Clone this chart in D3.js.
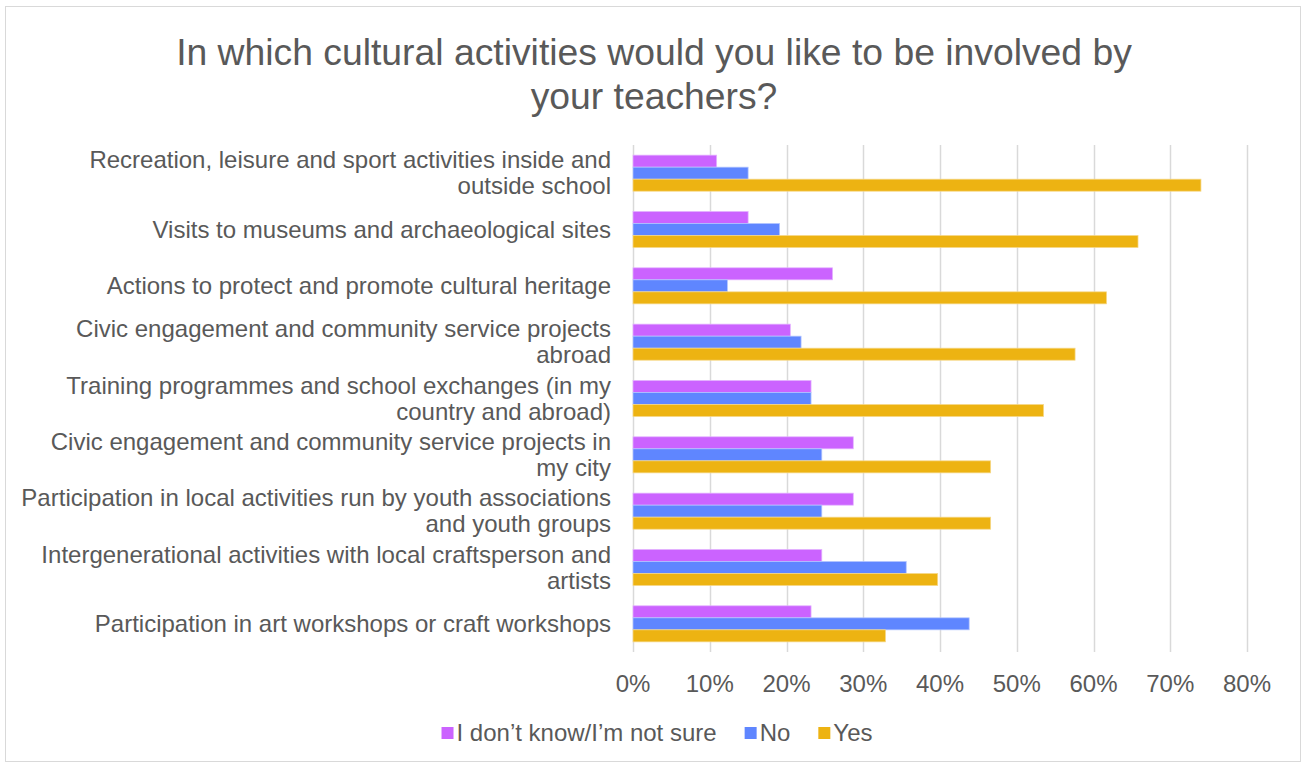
<!DOCTYPE html>
<html>
<head>
<meta charset="utf-8">
<script src="https://cdn.jsdelivr.net/npm/d3@7"></script>
<style>
  html, body { margin: 0; padding: 0; background: #ffffff; }
  svg { display: block; font-family: "Liberation Sans", Arial, sans-serif; }
</style>
</head>
<body>
<svg id="chart" width="1302" height="767"></svg>
<script>
// Survey answers, share of respondents per activity
const categories = [
  "Recreation, leisure and sport activities inside and\noutside school",
  "Visits to museums and archaeological sites",
  "Actions to protect and promote cultural heritage",
  "Civic engagement and community service projects\nabroad",
  "Training programmes and school exchanges (in my\ncountry and abroad)",
  "Civic engagement and community service projects in\nmy city",
  "Participation in local activities run by youth associations\nand youth groups",
  "Intergenerational activities with local craftsperson and\nartists",
  "Participation in art workshops or craft workshops"
];
const seriesNames = ["I don\u2019t know/I\u2019m not sure", "No", "Yes"];
const notSure = [0.109, 0.150, 0.260, 0.205, 0.232, 0.287, 0.287, 0.246, 0.232];
const no      = [0.150, 0.191, 0.123, 0.219, 0.232, 0.246, 0.246, 0.356, 0.438];
const yes     = [0.740, 0.658, 0.617, 0.576, 0.535, 0.466, 0.466, 0.397, 0.329];
const xTicks  = [0, 0.1, 0.2, 0.3, 0.4, 0.5, 0.6, 0.7, 0.8];
const colors  = ["#CB63FF", "#5F86FF", "#EDB312"];
const strokes = ["#E3B3FF", "#B3C5FF", "#F6D889"];

const svg = d3.select("#chart");
const textColor = "#595959";

// chart frame
svg.append("rect")
  .attr("x", 5.5).attr("y", 6.5)
  .attr("width", 1295).attr("height", 755)
  .attr("fill", "#fff").attr("stroke", "#D9D9D9").attr("stroke-width", 1);

// title
const title = svg.append("text")
  .attr("text-anchor", "middle")
  .attr("fill", textColor)
  .style("font-size", "37.3px");
["In which cultural activities would you like to be involved by", "your teachers?"]
  .forEach((line, i) => {
    title.append("tspan").attr("x", 654).attr("y", 65 + i * 44).text(line);
  });

const plot = { left: 633, right: 1247, top: 145, bottom: 652 };

const x = d3.scaleLinear().domain([0, 0.8]).range([plot.left, plot.right]);
const y = d3.scaleBand()
  .domain(d3.range(categories.length))
  .range([plot.top, plot.bottom])
  .paddingInner(0.36)
  .paddingOuter(0.18);
const ySub = d3.scaleBand()
  .domain(d3.range(seriesNames.length))
  .range([0, y.bandwidth()]);

// vertical gridlines
svg.append("g")
  .selectAll("line")
  .data(xTicks)
  .join("line")
  .attr("x1", d => Math.round(x(d)) + 0.5)
  .attr("x2", d => Math.round(x(d)) + 0.5)
  .attr("y1", plot.top)
  .attr("y2", plot.bottom)
  .attr("stroke", "#D9D9D9")
  .attr("stroke-width", 1.5);

// x tick labels
svg.append("g")
  .selectAll("text")
  .data(xTicks)
  .join("text")
  .attr("x", d => x(d))
  .attr("y", 692)
  .attr("text-anchor", "middle")
  .attr("fill", textColor)
  .style("font-size", "24px")
  .text(d => d3.format(".0%")(d));

// bars
const series = [notSure, no, yes];
const rows = categories.map((c, i) => ({ i, values: series.map(s => s[i]) }));
const groups = svg.append("g")
  .selectAll("g")
  .data(rows)
  .join("g")
  .attr("transform", d => `translate(0,${y(d.i)})`);
groups.selectAll("rect")
  .data(d => d.values.map((v, k) => ({ v, k })))
  .join("rect")
  .attr("x", x(0))
  .attr("y", d => ySub(d.k))
  .attr("width", d => x(d.v) - x(0))
  .attr("height", ySub.bandwidth())
  .attr("fill", d => colors[d.k])
  .attr("stroke", d => strokes[d.k])
  .attr("stroke-width", 0.75);

// category labels
const lineH = 26;
svg.append("g")
  .selectAll("text")
  .data(categories)
  .join("text")
  .attr("text-anchor", "end")
  .attr("fill", textColor)
  .style("font-size", "24px")
  .each(function (c, i) {
    const lines = c.split("\n");
    const cy = y(i) + y.bandwidth() / 2;
    const y0 = cy - (lines.length - 1) * lineH / 2 + 8;
    lines.forEach((ln, j) => {
      d3.select(this).append("tspan")
        .attr("x", 611)
        .attr("y", y0 + j * lineH)
        .text(ln);
    });
  });

// legend
const legend = svg.append("g").style("font-size", "24px");
const items = legend.selectAll("g")
  .data(seriesNames)
  .join("g");
items.append("rect")
  .attr("width", 12).attr("height", 12)
  .attr("y", 727)
  .attr("fill", (d, k) => colors[k]);
items.append("text")
  .attr("x", 15)
  .attr("y", 741)
  .attr("fill", textColor)
  .text(d => d);
let cursor = 0;
const offsets = [];
items.each(function () {
  const w = this.querySelector("text").getComputedTextLength();
  offsets.push(cursor);
  cursor += 15 + w + 28;
});
const totalW = cursor - 28;
const startX = 657 - totalW / 2;
items.attr("transform", (d, k) => `translate(${startX + offsets[k]},0)`);
</script>
</body>
</html>
